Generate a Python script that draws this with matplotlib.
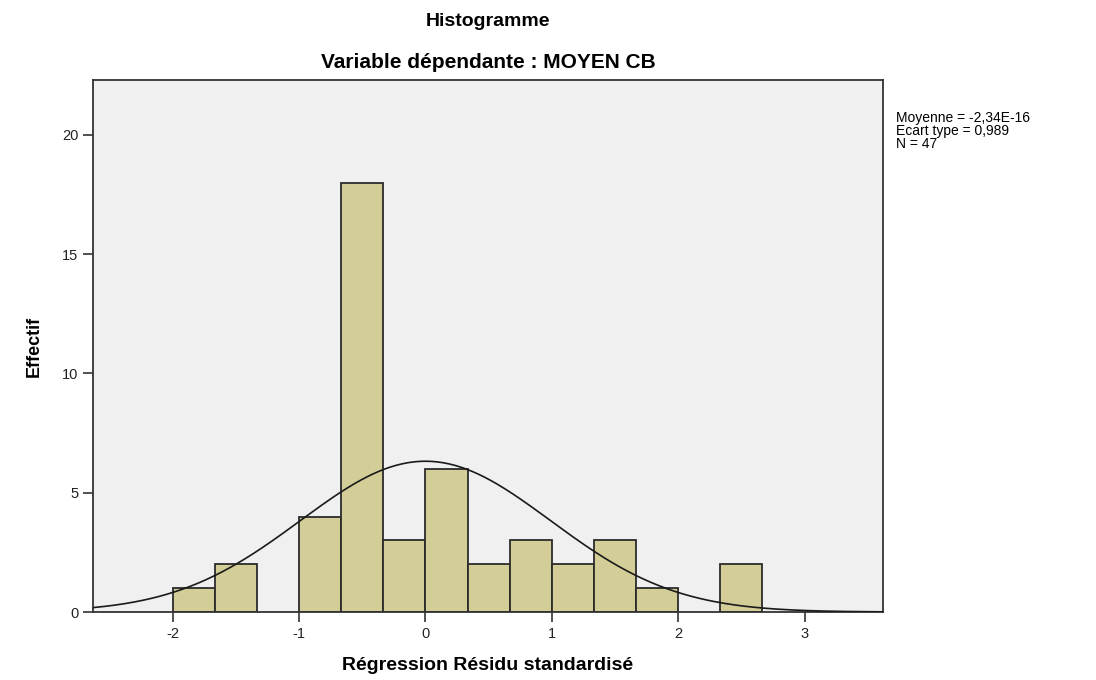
import numpy as np
import matplotlib.pyplot as plt

plt.rcParams['font.family'] = ['Liberation Sans', 'DejaVu Sans']
plt.rcParams['axes.unicode_minus'] = False

# bins of width 1/3 from -2 to 2.67
bin_edges = [-2, -5/3, -4/3, -1, -2/3, -1/3, 0, 1/3, 2/3, 1, 4/3, 5/3, 2, 7/3, 8/3]
counts = [1, 2, 0, 4, 18, 3, 6, 2, 3, 2, 3, 1, 0, 2]
mean = -2.34e-16
sd = 0.989
n = 47

fig = plt.figure(figsize=(10.96, 6.8), dpi=100)
ax = fig.add_axes([93/1096, 1 - 612/680, (883-93)/1096, (612-80)/680])
ax.set_facecolor('#f0f0f0')

left = np.array(bin_edges[:-1])
width = np.diff(bin_edges)
h = np.array(counts)
mask = h > 0
ax.bar(left[mask], h[mask], width=width[mask], align='edge', color='#d3ce97',
       edgecolor='#2b2b2b', linewidth=1.3, zorder=2)

xlim = (-2.63, 3.62)
xs = np.linspace(xlim[0], xlim[1], 400)
binw = 1/3
ys = n * binw / (sd * np.sqrt(2*np.pi)) * np.exp(-0.5*((xs - mean)/sd)**2)
ax.plot(xs, ys, color='#1a1a1a', linewidth=1.2, zorder=3)

ax.set_xlim(*xlim)
ax.set_ylim(0, 22.3)
ax.set_xticks([-2, -1, 0, 1, 2, 3])
ax.set_yticks([0, 5, 10, 15, 20])
ax.tick_params(direction='out', length=7, width=1.2, labelsize=10.5, color='#333333',
               labelcolor='#222222')
for s in ax.spines.values():
    s.set_color('#333333')
    s.set_linewidth(1.3)

ax.set_xlabel('Régression Résidu standardisé', fontsize=14, fontweight='bold', labelpad=12)
ax.set_ylabel('Effectif', fontsize=13, fontweight='bold', labelpad=14)

fig.text(488/1096, 1 - 22/680, 'Histogramme', ha='center', va='center',
         fontsize=14, fontweight='bold')
fig.text(488/1096, 1 - 62/680, 'Variable dépendante : MOYEN CB', ha='center', va='center',
         fontsize=15, fontweight='bold')

fig.text(896/1096, 1 - 111/680, 'Moyenne = -2,34E-16\nEcart type = 0,989\nN = 47',
         ha='left', va='top', fontsize=10, linespacing=0.9)

fig.savefig('out.png', dpi=100)
